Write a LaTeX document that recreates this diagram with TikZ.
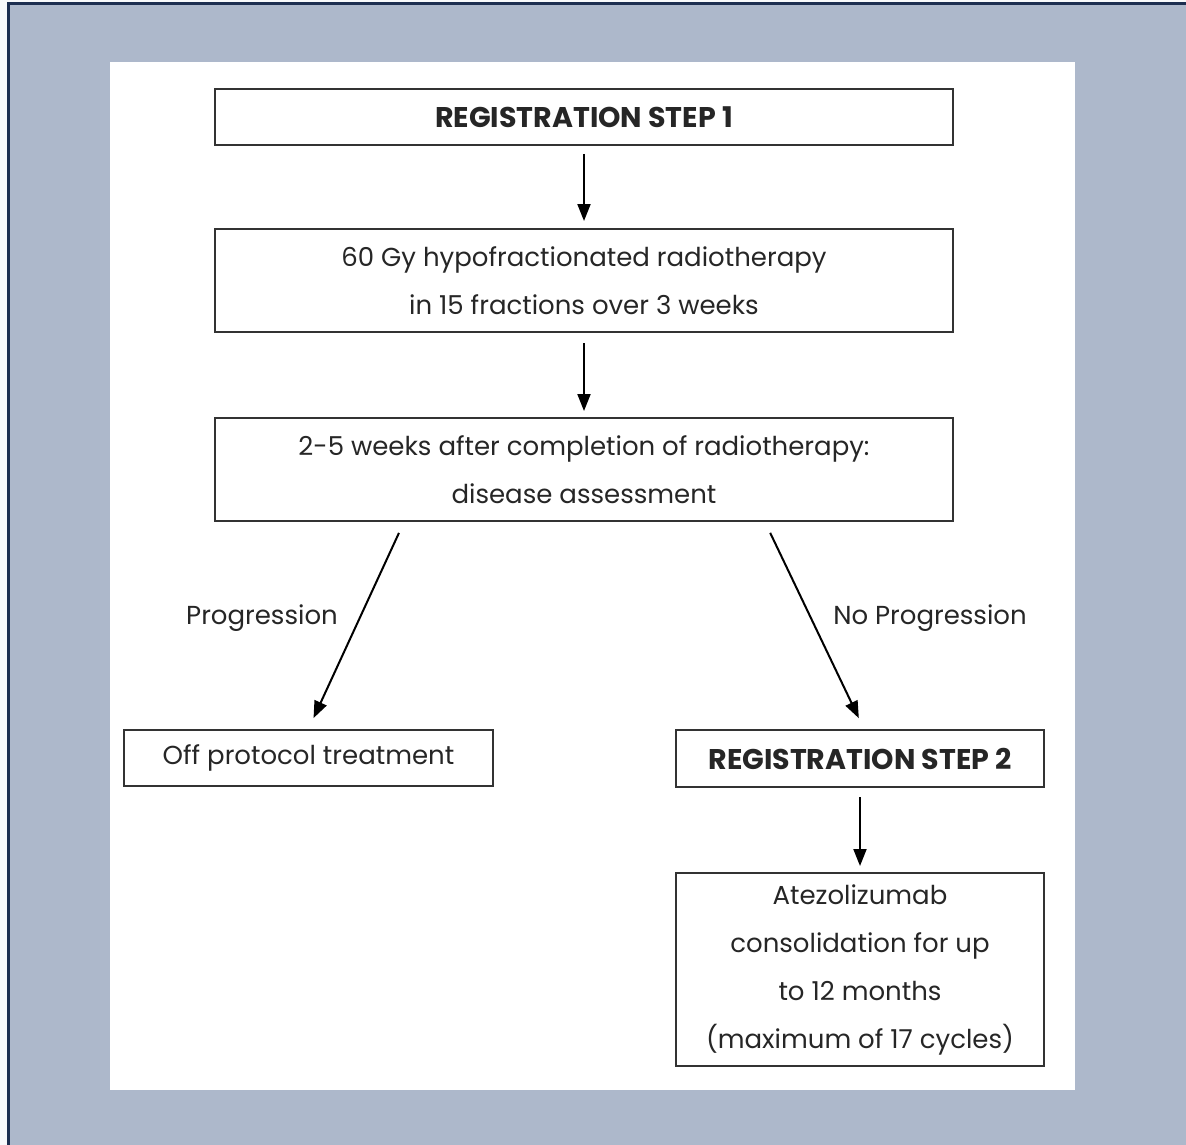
\documentclass[tikz,border=0pt]{standalone}
\usepackage{fontspec}
\setmainfont{Poppins}
\usetikzlibrary{arrows.meta}
\definecolor{bgblue}{HTML}{ADB8CB}
\definecolor{navy}{HTML}{1C2E50}
\definecolor{boxc}{HTML}{333333}
\definecolor{txt}{HTML}{262626}
\tikzset{
  box/.style={draw=boxc, line width=2pt, fill=white, text=txt, align=center, inner sep=0pt,
    font=\fontsize{26pt}{48pt}\selectfont},
  boldtxt/.style={font=\fontsize{28.5pt}{48pt}\selectfont\bfseries},
  lbl/.style={text=txt, inner sep=0pt, font=\fontsize{26pt}{48pt}\selectfont},
  arr/.style={-{Triangle[length=17pt,width=13pt]}, line width=2pt, black},
}
\begin{document}
\begin{tikzpicture}[x=1pt,y=-1pt]
\useasboundingbox (0,0) rectangle (1186,1145);
\fill[white!92!bgblue] (0,0) rectangle (1186,1145);
\fill[bgblue] (8,4) rectangle (1186,1145);
\draw[navy, line width=3pt] (8,1145) -- (8,4) -- (1186,4);
\fill[white] (110,62) rectangle (1075,1090);

\node[box, boldtxt, minimum width=738pt, minimum height=56pt] (r1) at (584,117) {REGISTRATION STEP 1};
\node[box, minimum width=738pt, minimum height=103pt] (rt) at (584,280.5) {60 Gy hypofractionated radiotherapy\\in 15 fractions over 3 weeks};
\node[box, minimum width=738pt, minimum height=103pt] (da) at (584,469.5) {2-5 weeks after completion of radiotherapy:\\disease assessment};
\node[box, minimum width=369pt, minimum height=56pt] (off) at (308.5,758) {Off protocol treatment};
\node[box, boldtxt, minimum width=368pt, minimum height=57pt] (r2) at (860,758.5) {REGISTRATION STEP 2};
\node[box, minimum width=368pt, minimum height=193pt] (at) at (860,969.5) {Atezolizumab\\consolidation for up\\to 12 months\\(maximum of 17 cycles)};

\node[lbl] (lp) at (262,618) {Progression};
\node[lbl] (lnp) at (930,618) {No Progression};

\draw[arr, shorten <=8pt, shorten >=7pt] (r1.south) -- (rt.north);
\draw[arr, shorten <=10pt, shorten >=6pt] (rt.south) -- (da.north);
\draw[arr, shorten <=12pt, shorten >=12pt] ([xshift=-180pt]da.south) -- (off.north);
\draw[arr, shorten <=12pt, shorten >=12pt] ([xshift=181pt]da.south) -- ([xshift=4pt]r2.north);
\draw[arr, shorten <=9pt, shorten >=6pt] (r2.south) -- (at.north);
\end{tikzpicture}
\end{document}
